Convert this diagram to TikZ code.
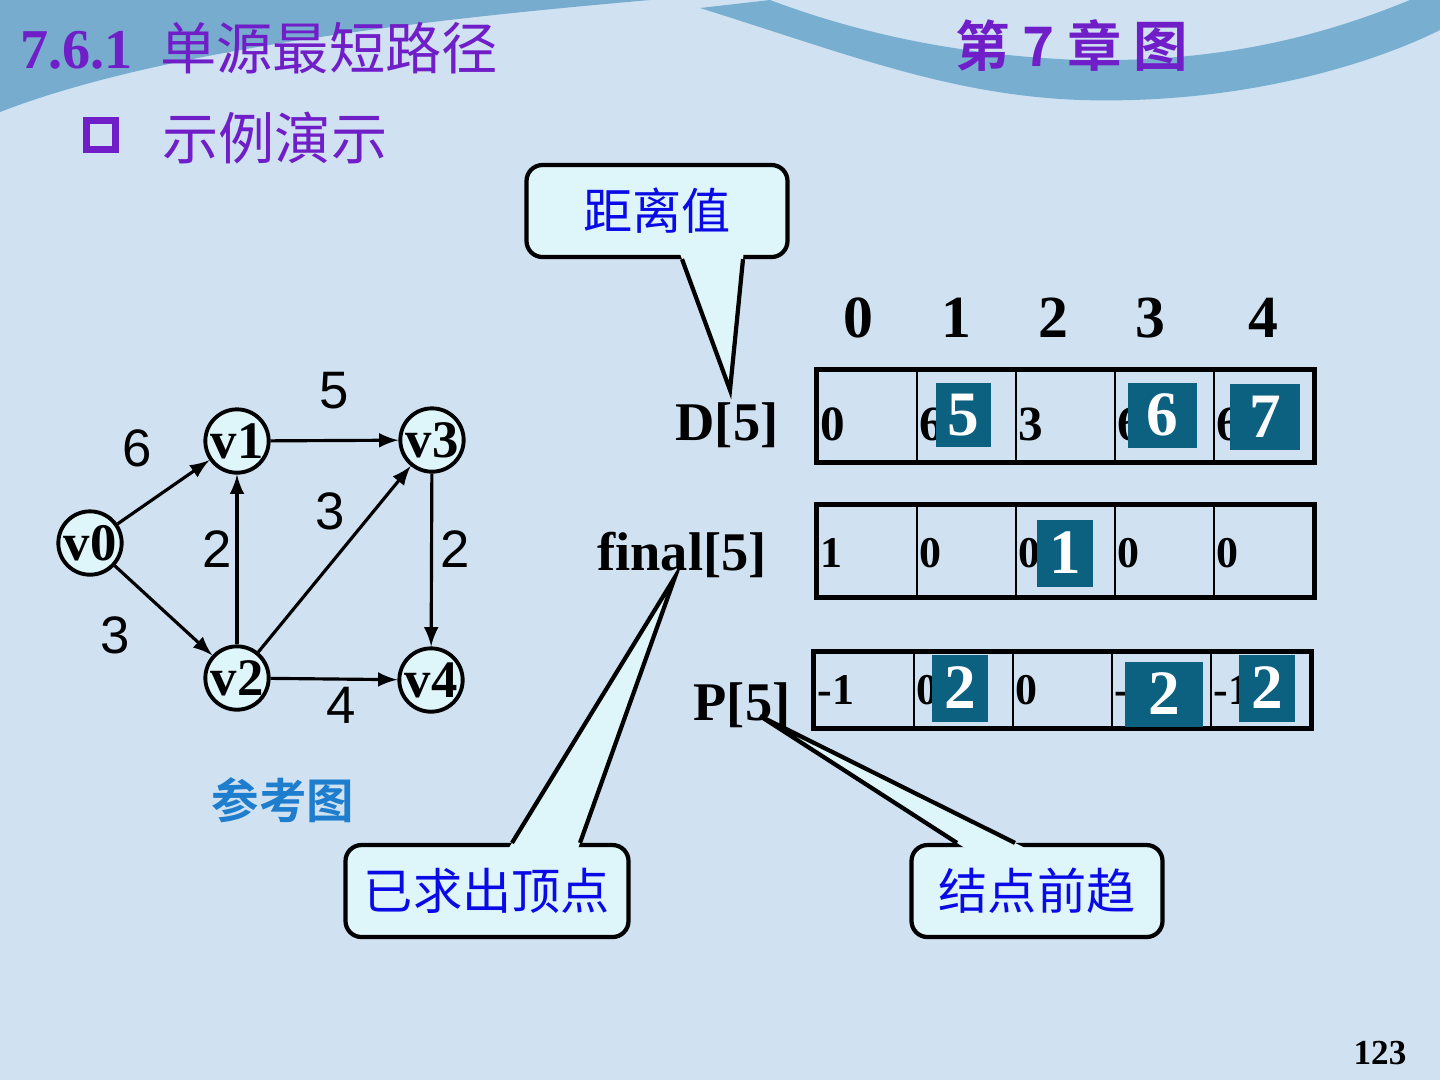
\documentclass[tikz,border=0pt]{standalone}
\usepackage{fontspec}
\setmainfont{Liberation Serif}
\newfontfamily\cjkfont{Noto Sans CJK SC}[BoldFont={Noto Sans CJK SC Bold}]
\newfontfamily\arialfont{Liberation Sans}
\usetikzlibrary{positioning,calc}

\definecolor{bgblue}{RGB}{208,226,242}
\definecolor{topblue}{RGB}{120,172,206}
\definecolor{waveblue}{RGB}{98,162,200}
\definecolor{titlepurple}{RGB}{112,30,200}
\definecolor{tipblue}{RGB}{10,10,230}
\definecolor{tipfill}{RGB}{222,245,250}
\definecolor{hiteal}{RGB}{12,96,128}
\definecolor{refblue}{RGB}{30,125,205}

\begin{document}
\begin{tikzpicture}[x=0.1mm, y=-0.1mm, >=latex,
    vertex/.style={circle, draw, line width=1.1pt, fill=tipfill, minimum size=5.3mm, inner sep=0pt,
      font=\bfseries\fontsize{15}{15}\selectfont},
    wt/.style={font=\arialfont\fontsize{15}{15}\selectfont},
    cell/.style={draw, line width=0.8pt, minimum width=9.9mm, inner sep=0pt},
    val/.style={anchor=west, inner sep=1pt, font=\bfseries\fontsize{12.5}{12.5}\selectfont},
    hibox/.style={fill=hiteal, text=white, inner sep=0pt, font=\bfseries\fontsize{18}{18}\selectfont},
    arrname/.style={font=\bfseries\fontsize{15.5}{15.5}\selectfont},
    colnum/.style={font=\bfseries\fontsize{17}{17}\selectfont},
    tipbox/.style={draw, rounded corners=1.6mm, line width=1.2pt, fill=tipfill, text=tipblue,
      minimum height=9.2mm, font=\cjkfont\fontsize{14}{14}\selectfont}]
    \useasboundingbox (0,0) rectangle (1440,1080);

    % background
    \fill[bgblue] (0,0) rectangle (1440,1080);
    \fill[topblue] (0,0) -- (650,0) .. controls (420,20) and (160,50) .. (0,112) -- cycle;
    \fill[waveblue, opacity=0.8] (700,8) .. controls (850,55) and (950,95) .. (1080,100)
        .. controls (1250,105) and (1380,60) .. (1440,30) -- (1440,0) -- (1410,0)
        .. controls (1300,45) and (1200,62) .. (1080,60)
        .. controls (950,55) and (850,30) .. (770,0) -- cycle;

    % titles
    \node[anchor=west, text=titlepurple, font=\bfseries\fontsize{16}{16}\selectfont] (secno) at (8,50) {7.6.1};
    \node[anchor=west, text=titlepurple, font=\cjkfont\fontsize{16}{16}\selectfont] (sectitle) at (148,48) {单源最短路径};
    \node[text=titlepurple, font=\cjkfont\bfseries\fontsize{15.5}{15.5}\selectfont] (chap) at (1072,45) {第 7 章 图};
    \node[draw=titlepurple, line width=2.2pt, minimum size=2.9mm, inner sep=0pt] (bullet) at (101,135) {};
    \node[anchor=west, text=titlepurple, font=\cjkfont\fontsize{16}{16}\selectfont] (subtitle) at (150,138) {示例演示};

    % graph
    \node[vertex] (v0) at (90,543) {v0};
    \node[vertex] (v1) at (237,441) {v1};
    \node[vertex] (v2) at (237,678) {v2};
    \node[vertex] (v3) at (432,440) {v3};
    \node[vertex] (v4) at (431,680) {v4};

    \draw[->, line width=0.9pt] (v0) -- node[wt, xshift=-2.6mm, yshift=4.4mm] {6} (v1);
    \draw[->, line width=0.9pt] (v0) -- node[wt, xshift=-4.8mm, yshift=-2.5mm] {3} (v2);
    \draw[->, line width=0.9pt] (v1) -- node[wt, yshift=5mm] {5} (v3);
    \draw[->, line width=0.9pt] (v2) -- node[wt, xshift=-2mm, yshift=1mm] {2} (v1);
    \draw[->, line width=0.9pt] (v2) -- node[wt, xshift=-0.4mm, yshift=4.8mm] {3} (v3);
    \draw[->, line width=0.9pt] (v2) -- node[wt, xshift=0.7mm, yshift=-2.6mm] {4} (v4);
    \draw[->, line width=0.9pt] (v3) -- node[wt, xshift=2.4mm, yshift=1.1mm] {2} (v4);

    \node[text=refblue, font=\cjkfont\bfseries\fontsize{13.5}{13.5}\selectfont] (refcap) at (283,800) {参考图};

    % column numbers
    \foreach \c/\x in {0/858, 1/956, 2/1053, 3/1150, 4/1263}
        \node[colnum] (col\c) at (\x,318) {\c};

    % arrays
    \node[arrname] (dlab) at (727,425) {D[5]};
    \node[arrname] (flab) at (682,555) {final[5]};
    \node[arrname] (plab) at (742,705) {P[5]};

    \foreach \v [count=\i from 0] in {0,6,3,6,6}{
        \node[cell, minimum height=9mm] (D\i) at (867.5+99*\i,416) {};
        \node[val, font=\bfseries\fontsize{14}{14}\selectfont] at ($(D\i.west)+(0,8)$) {\v};
    }
    \draw[line width=1.4pt] (D0.north west) rectangle (D4.south east);

    \foreach \v [count=\i from 0] in {1,0,0,0,0}{
        \node[cell, minimum height=9mm] (F\i) at (867.5+99*\i,551) {};
        \node[val] at ($(F\i.west)+(0,2)$) {\v};
    }
    \draw[line width=1.4pt] (F0.north west) rectangle (F4.south east);

    \foreach \v [count=\i from 0] in {-1,0,0,-1,-1}{
        \node[cell, minimum height=7.4mm] (P\i) at (864.5+99*\i,690) {};
        \node[val] at (P\i.west) {\v};
    }
    \draw[line width=1.4pt] (P0.north west) rectangle (P4.south east);

    % new values
    \node[hibox, minimum width=5.5mm, minimum height=6.4mm] (nd1) at (963,415) {5};
    \node[hibox, minimum width=6.9mm, minimum height=6.5mm] (nd3) at (1162,415) {6};
    \node[hibox, minimum width=7mm, minimum height=6.6mm] (nd4) at (1265,417) {7};
    \node[hibox, minimum width=5.6mm, minimum height=6.7mm] (nf2) at (1065,553) {1};
    \node[hibox, minimum width=5.6mm, minimum height=6.7mm] (np1) at (960,688) {2};
    \node[hibox, minimum width=7.8mm, minimum height=6.5mm] (np3) at (1164,694) {2};
    \node[hibox, minimum width=5.6mm, minimum height=6.7mm] (np4) at (1267,688) {2};

    % callouts
    \node[tipbox, minimum width=26.1mm] (distbox) at (657,211) {距离值};
    \coordinate (dtip) at (730,390);
    \coordinate (db1) at ($(distbox.south)+(25,0)$);
    \coordinate (db2) at ($(distbox.south)+(86,0)$);
    \fill[tipfill] (dtip) -- ($(dtip)!1.1!(db1)$) -- ($(dtip)!1.1!(db2)$) -- cycle;
    \draw[line width=1.2pt] (db1) -- (dtip) -- (db2);

    \node[tipbox, minimum width=28.3mm] (donebox) at (487,891) {已求出顶点};
    \coordinate (ftip) at (675,577);
    \coordinate (fb1) at ($(donebox.north)+(25,0)$);
    \coordinate (fb2) at ($(donebox.north)+(93,0)$);
    \fill[tipfill] (ftip) -- ($(ftip)!1.05!(fb1)$) -- ($(ftip)!1.05!(fb2)$) -- cycle;
    \draw[line width=1.2pt] (fb1) -- (ftip) -- (fb2);

    \node[tipbox, minimum width=25.1mm] (prevbox) at (1037,891) {结点前趋};
    \coordinate (ptip) at (760,716);
    \coordinate (pb1) at ($(prevbox.north)+(-80,0)$);
    \coordinate (pb2) at ($(prevbox.north)+(-22,0)$);
    \fill[tipfill] (ptip) -- ($(ptip)!1.05!(pb1)$) -- ($(ptip)!1.05!(pb2)$) -- cycle;
    \draw[line width=1.2pt] (pb1) -- (ptip) -- (pb2);

    % page number
    \node[font=\bfseries\fontsize{10}{10}\selectfont] (pageno) at (1380,1053) {123};
\end{tikzpicture}
\end{document}
